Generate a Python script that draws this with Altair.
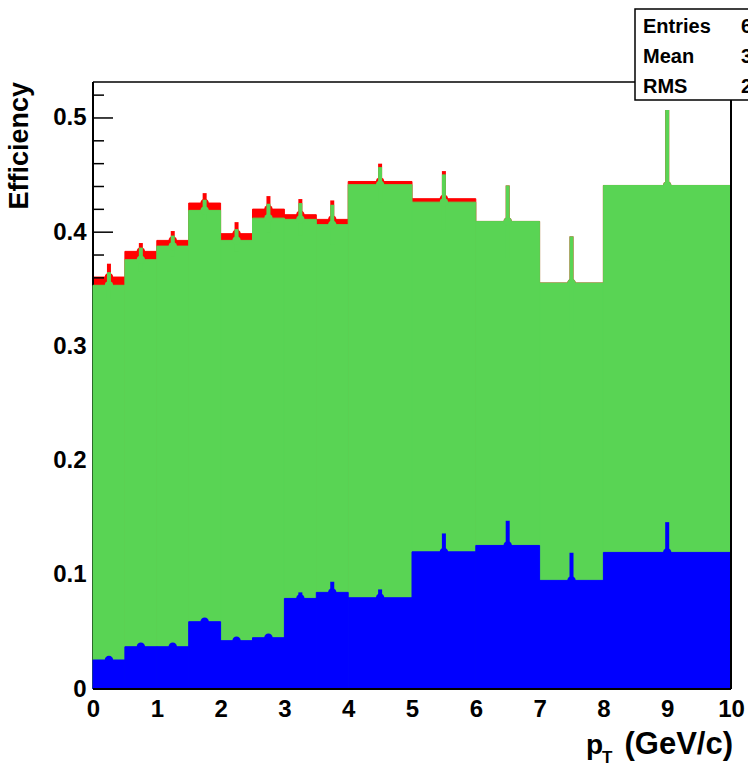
import altair as alt
import pandas as pd

# pT bin edges (GeV/c)
BIN_LO = [0.0, 0.5, 1.0, 1.5, 2.0, 2.5, 3.0, 3.5, 4.0, 5.0, 6.0, 7.0, 8.0]
BIN_HI = [0.5, 1.0, 1.5, 2.0, 2.5, 3.0, 3.5, 4.0, 5.0, 6.0, 7.0, 8.0, 10.0]

# efficiency per bin and its uncertainty, one pair of arrays per histogram
RED_EFF = [0.3607, 0.3832, 0.3928, 0.4255, 0.3987, 0.4202, 0.4153, 0.4112,
           0.4444, 0.4293, 0.4094, 0.3555, 0.4409]
RED_ERR = [0.0117, 0.0073, 0.0082, 0.0087, 0.0101, 0.0114, 0.0137, 0.0166,
           0.0156, 0.0242, 0.0315, 0.0408, 0.0660]

GREEN_EFF = [0.3535, 0.3759, 0.3878, 0.4191, 0.3928, 0.4123, 0.4112, 0.4066,
             0.4416, 0.4263, 0.4094, 0.3555, 0.4409]
GREEN_ERR = [0.0115, 0.0106, 0.0092, 0.0093, 0.0099, 0.0126, 0.0143, 0.0174,
             0.0154, 0.0243, 0.0315, 0.0408, 0.0660]

BLUE_EFF = [0.0254, 0.0370, 0.0370, 0.0589, 0.0423, 0.0449, 0.0793, 0.0846,
            0.0799, 0.1201, 0.1257, 0.0951, 0.1196]
BLUE_ERR = [0.0030, 0.0030, 0.0030, 0.0030, 0.0030, 0.0030, 0.0053, 0.0093,
            0.0073, 0.0161, 0.0216, 0.0242, 0.0265]

Y_MAJOR = [0.0, 0.1, 0.2, 0.3, 0.4, 0.5]
Y_MINOR = [0.02, 0.04, 0.06, 0.08, 0.12, 0.14, 0.16, 0.18, 0.22, 0.24, 0.26,
           0.28, 0.32, 0.34, 0.36, 0.38, 0.42, 0.44, 0.46, 0.48, 0.52]
X_TICKS = [0, 1, 2, 3, 4, 5, 6, 7, 8, 9, 10]

STAT_NAMES = ["Entries", "Mean", "RMS"]
STAT_VALUES = ["6", "3.", "2."]

RED = "#ff0000"
GREEN = "#59d454"
BLUE = "#0000ff"
FONT = "Liberation Sans"

W, H = 638, 607
xs = alt.Scale(domain=[0, 10], nice=False, zero=False)
ys = alt.Scale(domain=[0, 0.5315], nice=False, zero=False)

x_axis = alt.Axis(values=X_TICKS, format="d", ticks=False, domain=False, grid=False,
                  title=None, labelFont=FONT, labelFontWeight="bold", labelFontSize=24,
                  labelColor="black", labelPadding=8, labelFlush=False,
                  labelOverlap=False)
y_axis = alt.Axis(values=Y_MAJOR, ticks=False, domain=False, grid=False, title=None,
                  labelExpr="datum.value == 0 ? '0' : format(datum.value, '.1f')",
                  labelFont=FONT, labelFontWeight="bold", labelFontSize=24,
                  labelColor="black", labelPadding=7)


def histogram(eff, err, color):
    df = pd.DataFrame({
        "lo": BIN_LO,
        "hi": BIN_HI,
        "center": [(a + b) / 2 for a, b in zip(BIN_LO, BIN_HI)],
        "eff": eff,
        "low": [v - e for v, e in zip(eff, err)],
        "high": [v + e for v, e in zip(eff, err)],
    })
    base = alt.Chart(df)
    fill = base.mark_rect(color=color, stroke=color, strokeWidth=1).encode(
        x=alt.X("lo:Q", scale=xs, axis=x_axis),
        x2="hi:Q",
        y=alt.Y("eff:Q", scale=ys, axis=y_axis),
        y2=alt.datum(0),
    )
    bars = base.mark_rule(color=color, strokeWidth=4).encode(
        x=alt.X("center:Q", scale=xs, axis=x_axis),
        y=alt.Y("low:Q", scale=ys, axis=y_axis),
        y2="high:Q",
    )
    dots = base.mark_circle(color=color, size=70, opacity=1).encode(
        x=alt.X("center:Q", scale=xs, axis=x_axis),
        y=alt.Y("eff:Q", scale=ys, axis=y_axis),
    )
    return [fill, bars, dots]


one = pd.DataFrame({"k": [0]})

# inward-pointing ticks and left frame edge, drawn with the first histogram
# so the later fills lie over them
major = alt.Chart(pd.DataFrame({"v": Y_MAJOR})).mark_rule(color="black", strokeWidth=1.5).encode(
    y=alt.Y("v:Q", scale=ys, axis=y_axis), x=alt.value(0), x2=alt.value(20))
minor = alt.Chart(pd.DataFrame({"v": Y_MINOR})).mark_rule(color="black", strokeWidth=1.5).encode(
    y=alt.Y("v:Q", scale=ys, axis=y_axis), x=alt.value(0), x2=alt.value(11))
left_edge = alt.Chart(one).mark_rule(color="black", strokeWidth=2).encode(
    x=alt.value(0), y=alt.value(0), y2=alt.value(H))

frame = [
    alt.Chart(one).mark_rule(color="black", strokeWidth=2).encode(
        x=alt.value(0), x2=alt.value(W), y=alt.value(H)),
    alt.Chart(one).mark_rule(color="black", strokeWidth=1.5).encode(
        x=alt.value(0), x2=alt.value(W), y=alt.value(0)),
    alt.Chart(one).mark_rule(color="black", strokeWidth=2).encode(
        x=alt.value(W), y=alt.value(0), y2=alt.value(H)),
]

# statistics box in the upper right corner
stats_box = alt.Chart(one).mark_rect(fill="white", stroke="black", strokeWidth=1.5).encode(
    x=alt.value(542), x2=alt.value(720), y=alt.value(-73), y2=alt.value(18))
stats_text = []
for i, (name, val) in enumerate(zip(STAT_NAMES, STAT_VALUES)):
    ypos = -55 + 30 * i
    stats_text.append(alt.Chart(one).mark_text(
        font=FONT, fontWeight="bold", fontSize=20, align="left", baseline="middle",
        color="black").encode(x=alt.value(550), y=alt.value(ypos), text=alt.value(name)))
    stats_text.append(alt.Chart(one).mark_text(
        font=FONT, fontWeight="bold", fontSize=20, align="left", baseline="middle",
        color="black").encode(x=alt.value(648), y=alt.value(ypos), text=alt.value(val)))

# axis titles
y_title = alt.Chart(one).mark_text(
    font=FONT, fontWeight="bold", fontSize=27, angle=270, align="right",
    baseline="alphabetic", color="black").encode(
    x=alt.value(-65), y=alt.value(0), text=alt.value("Efficiency"))
x_title = [
    alt.Chart(one).mark_text(font=FONT, fontWeight="bold", fontSize=31, align="right",
                             baseline="alphabetic", color="black").encode(
        x=alt.value(W + 2), y=alt.value(672), text=alt.value("(GeV/c)")),
    alt.Chart(one).mark_text(font=FONT, fontWeight="bold", fontSize=28, align="left",
                             baseline="alphabetic", color="black").encode(
        x=alt.value(493), y=alt.value(672), text=alt.value("p")),
    alt.Chart(one).mark_text(font=FONT, fontWeight="bold", fontSize=17, align="left",
                             baseline="alphabetic", color="black").encode(
        x=alt.value(509), y=alt.value(681), text=alt.value("T")),
]

layers = (histogram(RED_EFF, RED_ERR, RED)
          + [major, minor, left_edge]
          + histogram(GREEN_EFF, GREEN_ERR, GREEN)
          + histogram(BLUE_EFF, BLUE_ERR, BLUE)
          + frame + [stats_box] + stats_text + [y_title] + x_title)

chart = alt.layer(*layers).properties(
    width=W,
    height=H,
    autosize=alt.AutoSizeParams(type="none"),
    padding={"left": 93, "top": 82, "right": 17, "bottom": 76},
    background="white",
).configure_view(stroke=None)

chart.save("out.html", embed_options={"renderer": "svg", "actions": False})
